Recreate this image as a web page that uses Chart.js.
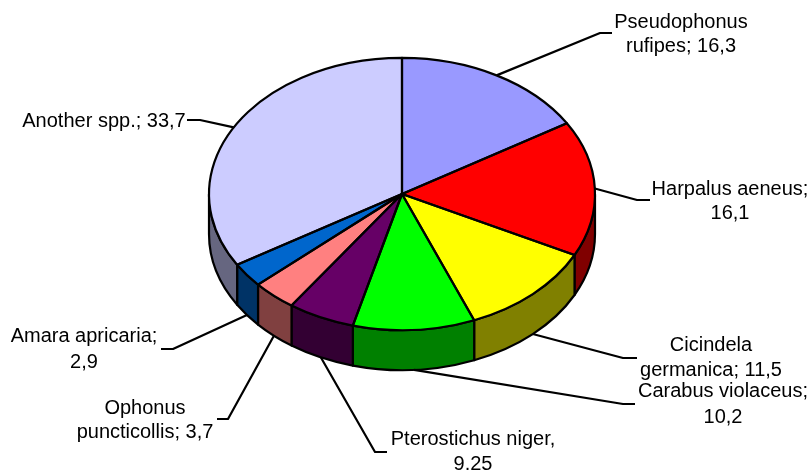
<!DOCTYPE html>
<html>
<head>
<meta charset="utf-8">
<style>
  html, body { margin: 0; padding: 0; background: #fff; }
  canvas { display: block; }
</style>
<script src="https://cdn.jsdelivr.net/npm/chart.js@4"></script>
</head>
<body>
<canvas id="chartEspecies" width="810" height="470"></canvas>
<script>
const species = ['Pseudophonus rufipes', 'Harpalus aeneus', 'Cicindela germanica', 'Carabus violaceus',
  'Pterostichus niger', 'Ophonus puncticollis', 'Amara apricaria', 'Another spp.'];
// the purple slice is drawn as 5.6 in the picture, even though its label prints 9.25
const shares = [16.3, 16.1, 11.5, 10.2, 5.6, 3.7, 2.9, 33.7];
const labelLines = [
  ['Pseudophonus', 'rufipes; 16,3'],
  ['Harpalus aeneus;', '16,1'],
  ['Cicindela', 'germanica; 11,5'],
  ['Carabus violaceus;', '10,2'],
  ['Pterostichus niger,', '9.25'],
  ['Ophonus', 'puncticollis; 3,7'],
  ['Amara apricaria;', '2,9'],
  ['Another spp.; 33,7']
];
const topColors = ['#9999FF', '#FF0000', '#FFFF00', '#00FF00', '#660066', '#FF8080', '#0066CC', '#CCCCFF'];
const sideColors = ['#4D4D80', '#800000', '#808000', '#008000', '#330033', '#804040', '#003366', '#666680'];

// label layout: text centre x, first line y, line height, elbow x, elbow y, leader end x
const labelX = [681, 730, 711, 723, 473, 145, 84, 104];
const labelY = [21, 188, 344, 390, 438, 407, 335, 120];
const lineHeights = [24, 24, 25, 26, 25, 24, 26, 25];
const elbowX = [600, 637, 623, 623, 375, 228, 173, 200];
const elbowY = [33, 200, 358, 404, 452, 419, 349, 120];
const leaderEndX = [612, 650, 637, 635, 387, 217, 161, 187];

const TILT = 0.705;   // ellipse height / width
const DEPTH = 40;     // side wall height

function normAngle(a) {
  const t = Math.PI * 2;
  return ((a % t) + t) % t;
}

const pie3d = {
  id: 'pie3d',
  beforeDatasetsDraw(chart) {
    const ctx = chart.ctx;
    const arcs = chart.getDatasetMeta(0).data;

    // side wall, only the part facing the viewer
    ctx.save();
    ctx.lineWidth = 2.2;
    ctx.strokeStyle = '#000';
    ctx.lineJoin = 'round';
    arcs.forEach((arc, i) => {
      const a = Math.max(arc.startAngle, 0);
      const b = Math.min(arc.endAngle, Math.PI);
      if (b <= a) return;
      const ry = arc.outerRadius * TILT;
      ctx.beginPath();
      ctx.ellipse(arc.x, arc.y, arc.outerRadius, ry, 0, a, b);
      ctx.ellipse(arc.x, arc.y + DEPTH, arc.outerRadius, ry, 0, b, a, true);
      ctx.closePath();
      ctx.fillStyle = sideColors[i];
      ctx.fill();
      ctx.stroke();
    });
    ctx.restore();

    // squash the library's round pie into the top ellipse
    const first = arcs[0];
    ctx.save();
    ctx.translate(0, first.y);
    ctx.scale(1, TILT);
    ctx.translate(0, -first.y);
  },
  afterDatasetsDraw(chart) {
    const ctx = chart.ctx;
    ctx.restore();

    // slice outlines, kept apart so the stroke is not squashed too
    const arcs = chart.getDatasetMeta(0).data;
    ctx.save();
    ctx.lineWidth = 2.2;
    ctx.strokeStyle = '#000';
    ctx.lineJoin = 'round';
    arcs.forEach(arc => {
      ctx.beginPath();
      ctx.moveTo(arc.x, arc.y);
      ctx.ellipse(arc.x, arc.y, arc.outerRadius, arc.outerRadius * TILT, 0, arc.startAngle, arc.endAngle);
      ctx.closePath();
      ctx.stroke();
    });

    // leader lines start from the slice's mid angle, on the wall if it faces us
    arcs.forEach((arc, i) => {
      const mid = normAngle((arc.startAngle + arc.endAngle) / 2);
      const x = arc.x + arc.outerRadius * Math.cos(mid);
      let y = arc.y + arc.outerRadius * TILT * Math.sin(mid);
      if (mid > 0 && mid < Math.PI) y += DEPTH;
      ctx.beginPath();
      ctx.moveTo(x, y);
      ctx.lineTo(elbowX[i], elbowY[i]);
      ctx.lineTo(leaderEndX[i], elbowY[i]);
      ctx.stroke();
    });

    ctx.fillStyle = '#000';
    ctx.font = '20px "Liberation Sans", Arial, sans-serif';
    ctx.textAlign = 'center';
    ctx.textBaseline = 'middle';
    labelLines.forEach((lines, i) => {
      lines.forEach((line, n) => {
        ctx.fillText(line, labelX[i], labelY[i] + 1 + n * lineHeights[i]);
      });
    });
    ctx.restore();
  }
};

new Chart(document.getElementById('chartEspecies'), {
  type: 'pie',
  data: {
    labels: species,
    datasets: [
      {
        data: shares,
        backgroundColor: topColors,
        borderWidth: 0,
        clip: false
      }
    ]
  },
  options: {
    responsive: false,
    animation: false,
    radius: 193,
    layout: { padding: { right: 6, bottom: 82 } },
    plugins: {
      legend: { display: false },
      tooltip: { enabled: false }
    }
  },
  plugins: [pie3d]
});
</script>
</body>
</html>
